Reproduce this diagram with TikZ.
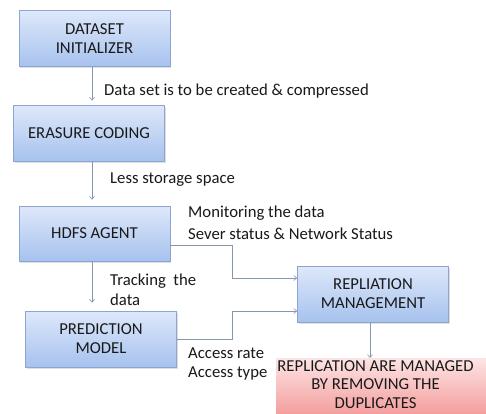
\documentclass[tikz,border=0pt]{standalone}
\usepackage{fontspec}
\setmainfont{Carlito}
\usetikzlibrary{arrows.meta,shadows,calc}
\definecolor{linec}{RGB}{135,150,175}
\definecolor{boxtop}{RGB}{222,232,250}
\definecolor{boxbot}{RGB}{166,194,238}
\definecolor{boxline}{RGB}{140,165,210}
\definecolor{redtop}{RGB}{253,228,228}
\definecolor{redbot}{RGB}{243,150,150}
\definecolor{txt}{RGB}{25,25,25}
\tikzset{
  x=1pt, y=-1pt,
  bluebox/.style={draw=boxline, line width=0.6pt, top color=boxtop, bottom color=boxbot,
    minimum width=151pt, minimum height=56pt, align=center, inner sep=0pt,
    drop shadow={shadow xshift=1pt, shadow yshift=-1.5pt, opacity=0.25}},
  redbox/.style={draw=none, top color=redtop, bottom color=redbot, inner sep=0pt},
  arr/.style={draw=linec, line width=0.6pt, -{Straight Barb[length=3pt,width=5pt]}},
  lbl/.style={anchor=west, inner sep=0pt, align=left},
}
\begin{document}
\begin{tikzpicture}[font=\fontsize{16.7}{19}\selectfont, text=txt]
\useasboundingbox (0,0) rectangle (486,413);
\clip (0,0) rectangle (486,413);
\fill[white] (0,0) rectangle (486,413);

\node[bluebox] (di) at (94.5,38.5) {DATASET\\INITIALIZER};
\node[bluebox] (ec) at (89,133) {ERASURE CODING};
\node[bluebox, minimum height=55pt] (hd) at (94.5,233.5) {HDFS AGENT};
\node[bluebox] (pm) at (101,339) {PREDICTION\\MODEL};
\node[bluebox] (rm) at (373,294) {REPLIATION\\MANAGEMENT};
\node[redbox, anchor=north west, minimum width=214pt, minimum height=62pt] (outbox) at (276,358) {};
\node[align=center, inner sep=0pt, font=\fontsize{16.7}{18.5}\selectfont] (out) at (375.5,384.5) {REPLICATION ARE MANAGED\\BY REMOVING THE\\DUPLICATES};

\coordinate (vx) at (92,0);
\coordinate (rx) at (370,0);
\coordinate (jx) at (232,0);
\coordinate (hy) at (0,245);
\coordinate (ry1) at (0,278);
\coordinate (ry2) at (0,311);

\draw[arr, shorten >=4pt] (di.south -| vx) -- (ec.north -| vx);
\draw[arr, shorten >=6pt] (ec.south -| vx) -- (hd.north -| vx);
\draw[arr, shorten >=8pt] (hd.south -| vx) -- (pm.north -| vx);
\draw[arr] (hd.east |- hy) -| (jx |- ry1) -- (rm.west |- ry1);
\draw[arr] (pm.east) -| (jx |- ry2) -- (rm.west |- ry2);
\draw[arr] (rm.south -| rx) -- (outbox.north -| rx);

\node[lbl] (l1) at (104,91) {Data set is to be created \& compressed};
\node[lbl] (l2) at (110,180) {Less storage space};
\node[lbl] (l3) at (188,213) {Monitoring the data};
\node[lbl] (l4) at (188,234) {Sever status \& Network Status};
\node[lbl] (l5) at (110,281) {Tracking\ \ the};
\node[lbl] (l6) at (110,300) {data};
\node[lbl] (l7) at (188,353) {Access rate};
\node[lbl] (l8) at (188,373) {Access type};
\end{tikzpicture}
\end{document}
